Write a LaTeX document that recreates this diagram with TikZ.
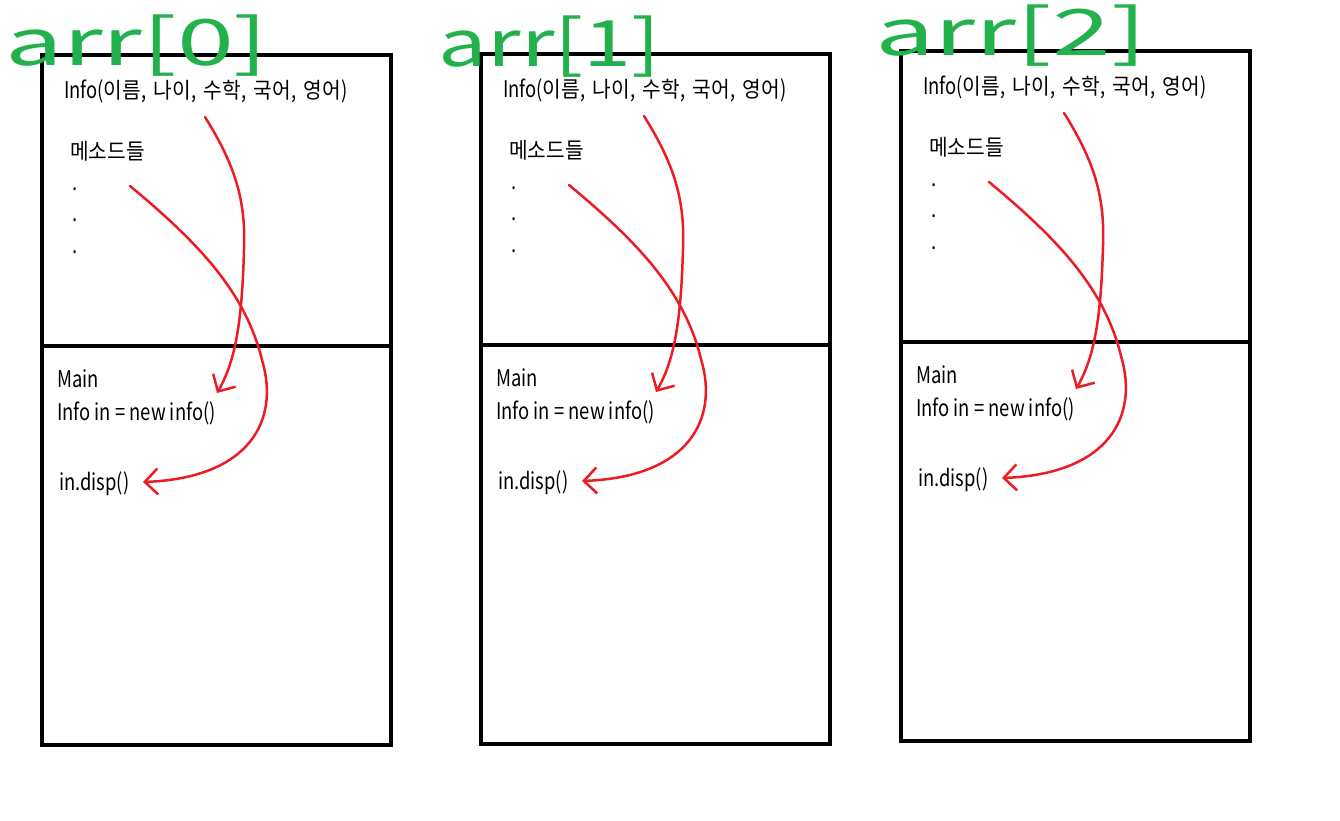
\documentclass[tikz,border=0pt]{standalone}
\usepackage{fontspec}
\setmainfont{Noto Sans CJK KR}[FakeStretch=0.8]
\newfontfamily\kofont{Noto Sans CJK KR}[FakeStretch=0.92]
\newfontfamily\handfont{Noto Sans CJK KR}
\newcommand\ko[1]{{\kofont\fontsize{22}{26}\selectfont #1}}
\newcommand\gap{,\hspace{3.5pt} }
\usetikzlibrary{arrows.meta}
\definecolor{paintred}{RGB}{237, 28, 36}
\definecolor{paintgreen}{RGB}{34, 177, 76}

\tikzset{
  memframe/.style={draw=black, line width=3.5pt},
  codetext/.style={anchor=base west, inner sep=0pt, font=\fontsize{23}{26}\selectfont},
  callarrow/.style={draw=paintred, line width=2.5pt, line cap=round, line join=round,
    -{Straight Barb[length=13pt, width=26pt]}},
  arrlabel/.style={text=paintgreen, inner sep=0pt, font=\handfont\fontsize{64}{64}\selectfont},
}

\begin{document}
\begin{tikzpicture}[x=1pt, y=-1pt]
  \useasboundingbox (0,0) rectangle (1340,820);

  \foreach \dx/\dy/\idx/\lx/\ly/\lsc in {0/0/0/137/46/1.6, 439/-1/1/550/47/1.35, 859/-4/2/1011/36/1.65} {
    \begin{scope}[shift={(\dx,\dy)}]
      % Object frame: members on top, main below
      \draw[memframe] (42,55) rectangle (391,745);
      \draw[memframe] (42,346) -- (391,346);

      \node[codetext] (head\idx) at (64,98) {Info(\ko{이름}\gap\ko{나이}\gap\ko{수학}\gap\ko{국어}\gap\ko{영어})};
      \node[codetext] (methods\idx) at (70,159) {\ko{메소드들}};
      \node[codetext] (dotA\idx) at (72,190) {.};
      \node[codetext] (dotB\idx) at (72,221) {.};
      \node[codetext] (dotC\idx) at (72,253) {.};

      \node[codetext] (main\idx) at (57,387) {Main};
      \node[codetext] (newinfo\idx) at (57,420) {Info in = new info()};
      \node[codetext] (disp\idx) at (59,490) {in.disp()};

      % Calls from main back into the members
      \coordinate (headcall\idx) at (205,117);
      \coordinate (newcall\idx) at (217,393);
      \coordinate (methcall\idx) at (130,186);
      \coordinate (dispcall\idx) at (143,482);
      \draw[callarrow] (headcall\idx) .. controls (235,165) and (246,200) .. (244,250)
        .. controls (242,320) and (236,360) .. (newcall\idx);
      \draw[callarrow] (methcall\idx) .. controls (195,240) and (245,290) .. (262,360)
        .. controls (280,420) and (250,478) .. (dispcall\idx);
    \end{scope}

    % Array slot label
    \node[arrlabel] (arr\idx) at (\lx,\ly) {\scalebox{\lsc}[1]{arr[\idx]}};
  }
\end{tikzpicture}
\end{document}
